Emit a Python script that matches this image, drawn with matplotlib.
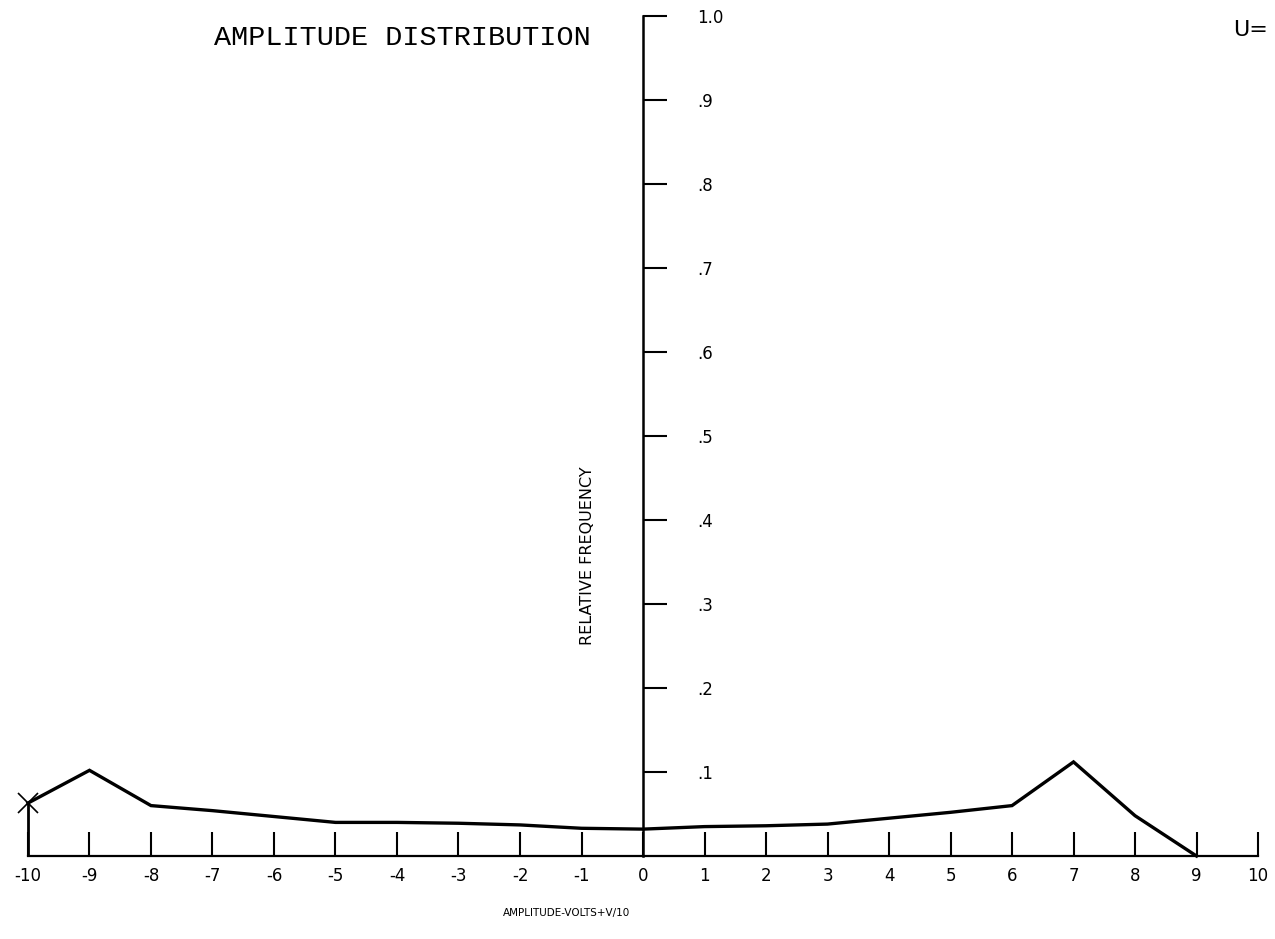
import numpy as np
import matplotlib.pyplot as plt

# amplitude bins (volts*V/10) and relative frequency
amplitude = [-10, -9, -8, -7, -6, -5, -4, -3, -2, -1,
             0, 1, 2, 3, 4, 5, 6, 7, 8, 9]
rel_freq = [0.063, 0.102, 0.060, 0.054, 0.047, 0.040, 0.040, 0.039, 0.037, 0.033,
            0.032, 0.035, 0.036, 0.038, 0.045, 0.052, 0.060, 0.112, 0.048, 0.0]

x_ticks = list(range(-10, 11))
x_labels = [str(v) for v in x_ticks]
y_ticks = [0.1, 0.2, 0.3, 0.4, 0.5, 0.6, 0.7, 0.8, 0.9, 1.0]
y_labels = ['.1', '.2', '.3', '.4', '.5', '.6', '.7', '.8', '.9', '1.0']

fig = plt.figure(figsize=(12.75, 9.39), dpi=100)
ax = fig.add_axes([0, 0, 1, 1])
ax.set_xlim(-10.455, 10.276)
ax.set_ylim(-0.0988, 1.019)

# pen trace, with the drop line at the first bin
ax.plot(amplitude, rel_freq, color='black', lw=2.4, solid_joinstyle='miter')
ax.vlines(amplitude[0], 0, rel_freq[0], color='black', lw=2.0)
ax.plot(amplitude[0], rel_freq[0], marker='x', color='black', ms=14, mew=1.2)

# axes drawn through the origin like the plotter did
for s in ['top', 'left']:
    ax.spines[s].set_visible(False)
ax.spines['bottom'].set_position(('data', 0))
ax.spines['bottom'].set_bounds(-10, 10)
ax.spines['bottom'].set_linewidth(1.6)
ax.spines['right'].set_position(('data', 0))
ax.spines['right'].set_bounds(0, 1.0)
ax.spines['right'].set_linewidth(1.8)

ax.set_xticks(x_ticks)
ax.set_xticklabels(x_labels)
ax.tick_params(axis='x', direction='in', length=17, width=1.5, pad=8,
               labelsize=12, bottom=True, top=False, labelcolor='black')

ax.yaxis.set_ticks_position('right')
ax.set_yticks(y_ticks)
ax.set_yticklabels(y_labels)
ax.tick_params(axis='y', direction='out', length=17, width=1.5, pad=22,
               labelsize=12, right=True, left=False,
               labelright=True, labelleft=False, labelcolor='black')

for lab in ax.get_xticklabels() + ax.get_yticklabels():
    lab.set_fontfamily('DejaVu Sans')

ax.text(-0.9, 0.357, 'RELATIVE FREQUENCY', rotation=90, ha='center', va='center',
        fontsize=11.5, family='DejaVu Sans', color='black')
ax.text(-1.25, -0.068, 'AMPLITUDE-VOLTS+V/10', ha='center', va='center',
        fontsize=7.5, family='DejaVu Sans', color='black')

fig.text(402 / 1275, 1 - 38 / 939, 'AMPLITUDE DISTRIBUTION', ha='center', va='center',
         fontsize=20.5, family='Liberation Mono')
fig.text(1268 / 1275, 1 - 30 / 939, 'U=', ha='right', va='center',
         fontsize=16, family='DejaVu Sans', color='black')

fig.savefig('out.png', dpi=100, facecolor='white')
